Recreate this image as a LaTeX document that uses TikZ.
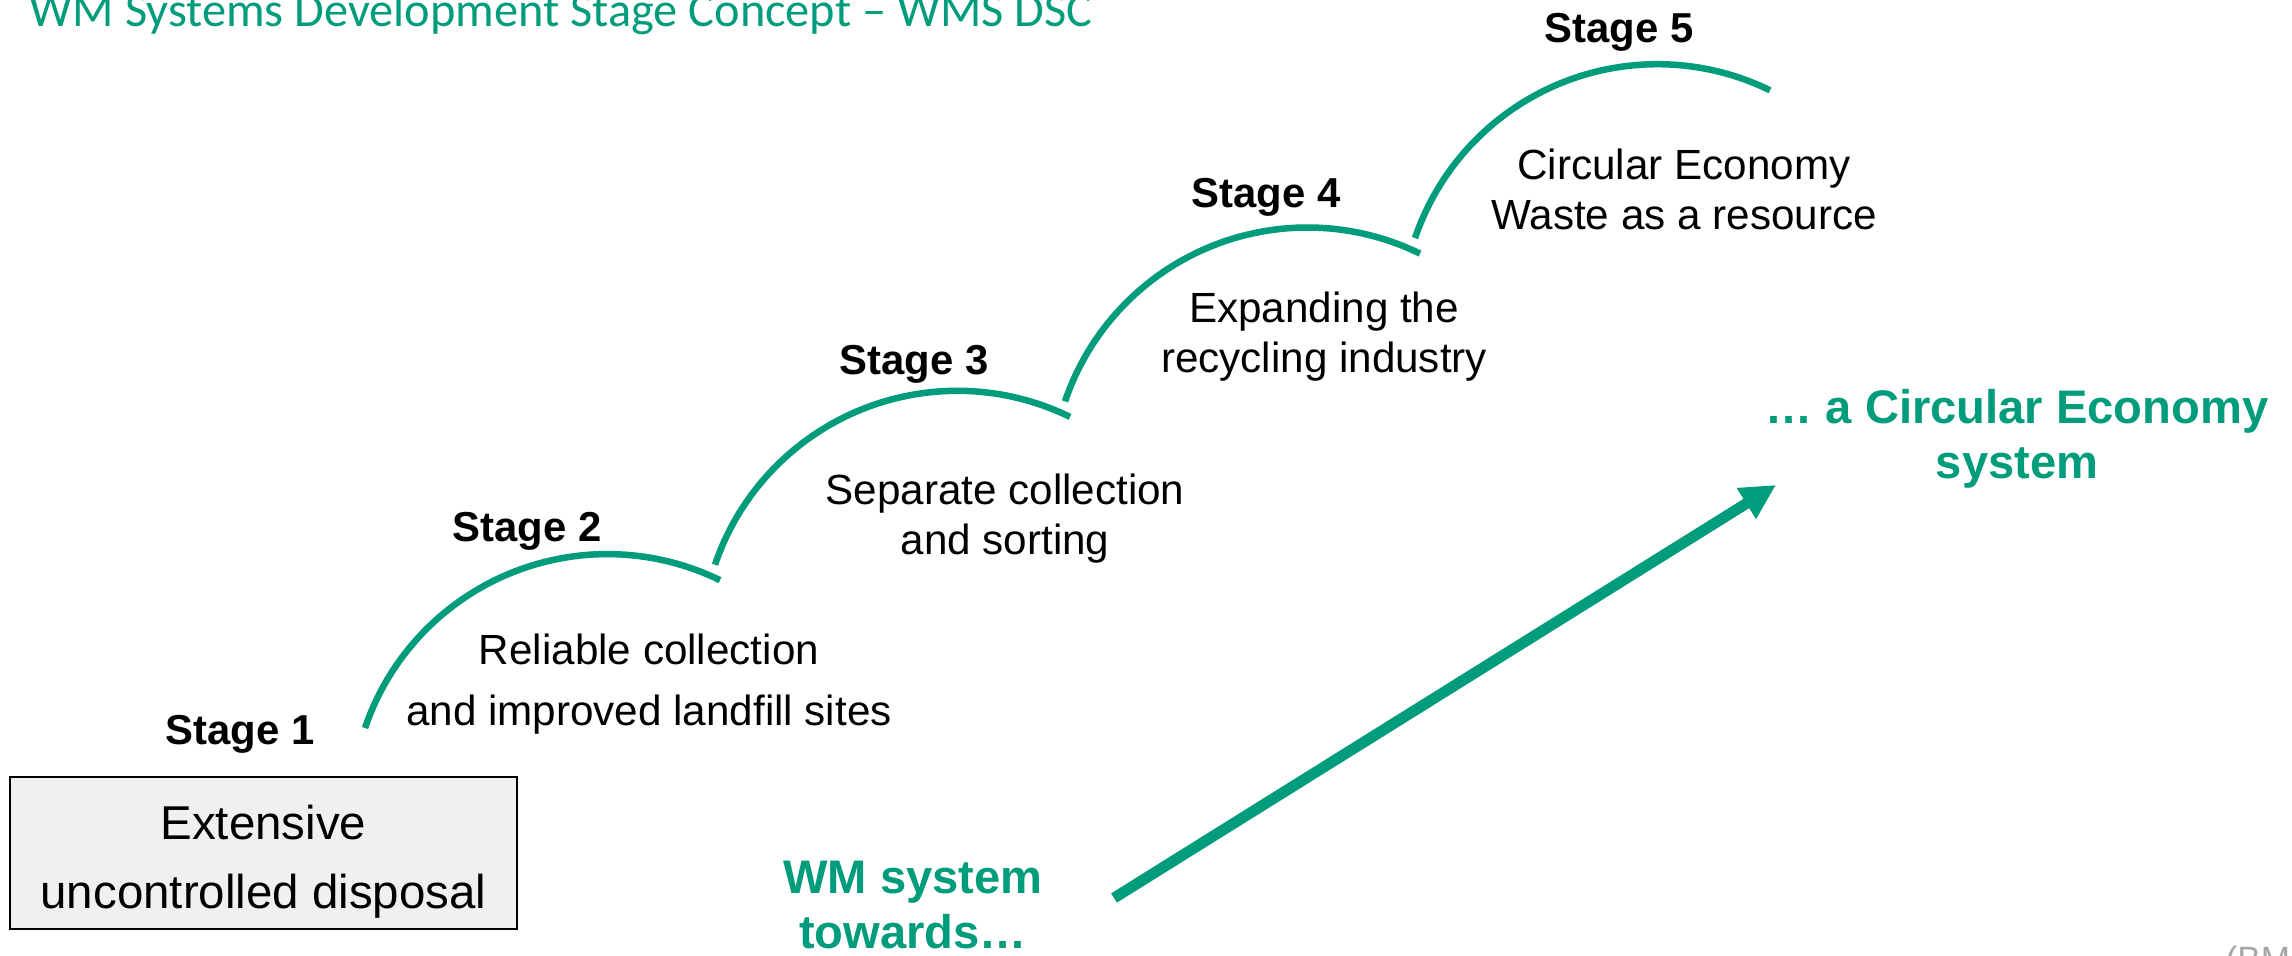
\documentclass[tikz,border=0pt]{standalone}
\usepackage{fontspec}
\setmainfont{Liberation Sans}
\newfontfamily\titlefont{Carlito}
\usepackage{xcolor}
\usepackage{tikz}
\usetikzlibrary{arrows.meta, positioning}

\definecolor{wmgreen}{RGB}{0,156,123}
\definecolor{boxgrey}{RGB}{240,240,240}
\definecolor{notegrey}{RGB}{166,166,166}

\begin{document}
\begin{tikzpicture}[
    x=0.01cm, y=0.01cm,
    stagearc/.style={wmgreen, line width=1.85pt},
    stagelabel/.style={anchor=base, inner sep=0pt, font=\fontsize{11.9}{14}\selectfont\bfseries},
    stagetext/.style={anchor=base, inner sep=0pt, align=center, font=\fontsize{12}{14.4}\selectfont},
    startbox/.style={rectangle, draw=black, fill=boxgrey, line width=0.57pt, minimum width=5.07cm, minimum height=1.52cm, inner sep=0pt},
    boxtext/.style={anchor=base, inner sep=0pt, align=center, font=\fontsize{13.5}{19.6}\selectfont},
    goaltext/.style={anchor=base, inner sep=0pt, align=center, text=wmgreen, font=\fontsize{13.4}{15.4}\selectfont\bfseries},
    arrow/.style={-{Triangle[length=0.35cm, width=0.34cm]}, wmgreen, line width=3.1pt}
]
\useasboundingbox (0,0) rectangle (2292,955);

\node[anchor=base west, inner sep=0pt, text=wmgreen, font=\titlefont\fontsize{13.75}{16}\selectfont] (title) at (29,928) {WM Systems Development Stage Concept – WMS DSC};

\node[startbox] (box) at (263.5,102) {};
\node[boxtext] (boxtxt) at (263.5,47) {Extensive\\uncontrolled disposal};

\draw[stagearc] (365,227) arc[start angle=161.3, end angle=63.9, radius=2.558cm];
\draw[stagearc] (715,390.3) arc[start angle=161.3, end angle=63.9, radius=2.558cm];
\draw[stagearc] (1065,553.6) arc[start angle=161.3, end angle=63.9, radius=2.558cm];
\draw[stagearc] (1415,716.9) arc[start angle=161.3, end angle=63.9, radius=2.558cm];

\node[stagelabel] (stage1) at (240,210) {Stage 1};
\node[stagelabel] (stage2) at (527,413) {Stage 2};
\node[stagelabel] (stage3) at (914,580) {Stage 3};
\node[stagelabel] (stage4) at (1266,747) {Stage 4};
\node[stagelabel] (stage5) at (1619,912) {Stage 5};

\node[stagetext, font=\fontsize{12}{17.6}\selectfont] (text2) at (649,229) {Reliable collection\\and improved landfill sites};
\node[stagetext] (text3) at (1005,400) {Separate collection\\and sorting};
\node[stagetext] (text4) at (1324,582) {Expanding the\\recycling industry};
\node[stagetext] (text5) at (1684,725) {Circular Economy\\Waste as a resource};

\node[goaltext] (towards) at (913,7) {WM system\\towards…};
\node[goaltext, font=\fontsize{13.4}{15.9}\selectfont\bfseries] (goal) at (2017,476) {… a Circular Economy\\system};

\coordinate (tail) at (1114,57);
\coordinate (tip) at (1776,470);
\draw[arrow] (tail) -- (tip);

\node[anchor=base west, inner sep=0pt, text=notegrey, font=\fontsize{10}{12}\selectfont] (source) at (2225,-17) {(BMU};

\end{tikzpicture}
\end{document}
